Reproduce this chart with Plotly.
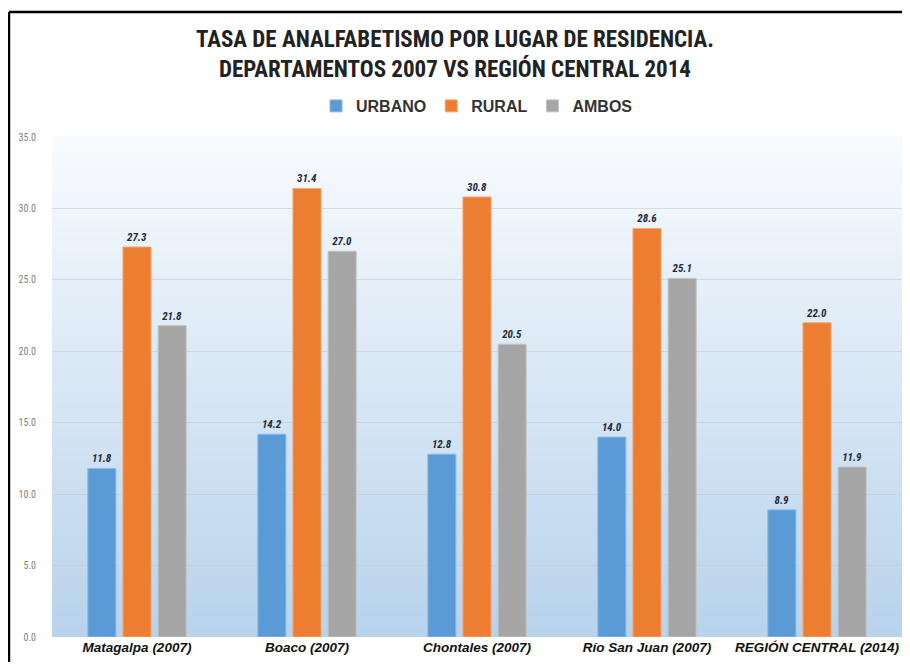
"""
Tasa de analfabetismo por lugar de residencia - Plotly
"""

import plotly.graph_objects as go

categorias = [
    "Matagalpa (2007)",
    "Boaco (2007)",
    "Chontales (2007)",
    "Río San Juan (2007)",
    "REGIÓN CENTRAL (2014)",
]
urbano = [11.8, 14.2, 12.8, 14.0, 8.9]
rural = [27.3, 31.4, 30.8, 28.6, 22.0]
ambos = [21.8, 27.0, 20.5, 25.1, 11.9]

y_ticks = [0, 5, 10, 15, 20, 25, 30, 35]

NARROW = "Liberation Sans Narrow, Roboto Condensed, Arial Narrow, sans-serif"
WIDE = "Liberation Sans, Arial, sans-serif"

fig = go.Figure()

series = [
    ("URBANO", urbano, "#5B9BD5", "#8FBBE3"),
    ("RURAL", rural, "#ED7D31", "#F4A877"),
    ("AMBOS", ambos, "#A5A5A5", "#C4C4C4"),
]
for name, vals, color, edge in series:
    fig.add_trace(go.Bar(
        x=categorias,
        y=vals,
        name=name,
        marker=dict(color=color, line=dict(color=edge, width=1)),
        text=[f"{v:.1f}" for v in vals],
        textposition="outside",
        textfont=dict(family=NARROW, size=11, color="#1f2a3a", weight="bold", style="italic"),
        cliponaxis=False,
    ))

# degradado de fondo del área de trazado (blanco arriba -> azul claro abajo)
top_rgb = (248, 251, 254)
bot_rgb = (184, 211, 236)
n = 60
shapes = []
for i in range(n):
    t = i / (n - 1)
    r = round(top_rgb[0] + (bot_rgb[0] - top_rgb[0]) * t)
    g = round(top_rgb[1] + (bot_rgb[1] - top_rgb[1]) * t)
    b = round(top_rgb[2] + (bot_rgb[2] - top_rgb[2]) * t)
    shapes.append(dict(
        type="rect", xref="x domain", yref="y domain",
        x0=0, x1=1, y0=1 - (i + 1) / n, y1=1 - i / n + 0.002,
        fillcolor=f"rgb({r},{g},{b})", line=dict(width=0), layer="below",
    ))
# marco negro del gráfico (solo visible a la izquierda y arriba)
shapes.append(dict(
    type="line", xref="paper", yref="paper",
    x0=-0.0506, x1=1.05, y0=1.25, y1=1.25,
    line=dict(color="black", width=2.5),
))
shapes.append(dict(
    type="line", xref="paper", yref="paper",
    x0=-0.0506, x1=-0.0506, y0=-0.12, y1=1.25,
    line=dict(color="black", width=2.5),
))

# la página tiene 8px de margen en el body -> figura de 894x654 (sin barras de scroll)
fig.update_layout(
    width=894,
    height=654,
    margin=dict(l=44, r=0, t=129, b=25, autoexpand=False),
    paper_bgcolor="white",
    plot_bgcolor="rgba(0,0,0,0)",
    title=dict(
        text="TASA DE ANALFABETISMO POR LUGAR DE RESIDENCIA.<br>DEPARTAMENTOS 2007 VS REGIÓN CENTRAL 2014",
        x=0.5, xanchor="center", y=0.9404, yanchor="top",
        font=dict(family=NARROW, size=23, color="#222222", weight="bold"),
    ),
    legend=dict(
        orientation="h", x=0.5, xanchor="center", y=1.062, yanchor="middle",
        font=dict(family=WIDE, size=16, color="#333333", weight="bold"),
        itemwidth=30, traceorder="normal",
    ),
    barmode="group",
    bargap=0.38,
    bargroupgap=0.2,
    showlegend=True,
    shapes=shapes,
    xaxis=dict(
        showgrid=False, showline=False, ticks="", automargin=False,
        tickfont=dict(family=WIDE, size=13.5, color="#111111", weight="bold", style="italic"),
    ),
    yaxis=dict(
        range=[0, 35],
        tickvals=y_ticks,
        ticktext=[f"{v:.1f}" for v in y_ticks],
        tickfont=dict(family=NARROW, size=10, color="#7f7f7f"),
        showgrid=True, gridcolor="rgba(200,200,200,0.6)", gridwidth=1,
        zeroline=False, showline=False, ticks="", automargin=False,
        ticklabelstandoff=15,
    ),
)

fig.write_html("out.html")
